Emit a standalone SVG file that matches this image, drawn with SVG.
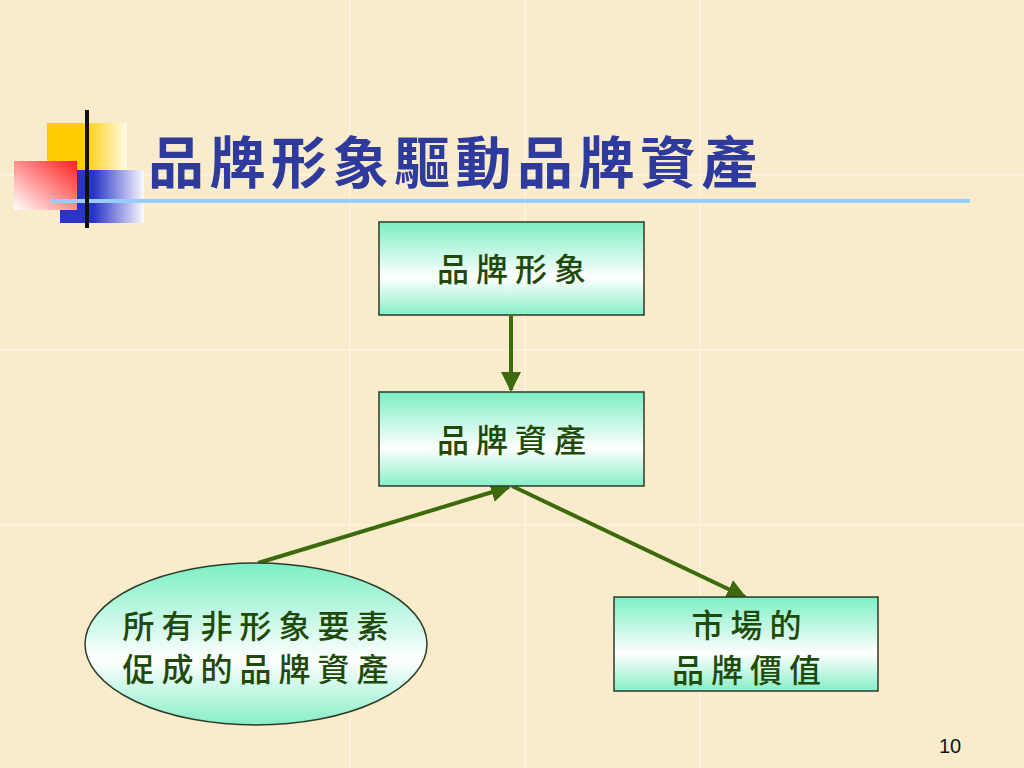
<svg xmlns="http://www.w3.org/2000/svg" width="1024" height="768" viewBox="0 0 1024 768">
<defs>
<style>
.cjk{font-family:"Noto Sans CJK TC","Noto Sans CJK SC",sans-serif;}
.nodeText{font-size:32px;fill:#1f4a0a;text-anchor:middle;font-weight:500;letter-spacing:7px;}
.box{fill:url(#gGreen);stroke:#2f3a2a;stroke-width:1.5;}
.conn{stroke:#3d6b0c;stroke-width:4;fill:none;marker-end:url(#ah);}
.grid{stroke:#fff8e8;stroke-width:1.5;opacity:0.8;}
</style>
<linearGradient id="gGreen" x1="0" y1="0" x2="0" y2="1">
<stop offset="0" stop-color="#7cefc4"/>
<stop offset="0.6" stop-color="#ffffff"/>
<stop offset="1" stop-color="#86efc6"/>
</linearGradient>
<linearGradient id="gYellow" x1="0" y1="0" x2="1" y2="0">
<stop offset="0" stop-color="#ffcc00"/>
<stop offset="0.45" stop-color="#ffcc00"/>
<stop offset="1" stop-color="#fffbe8"/>
</linearGradient>
<linearGradient id="gRed" x1="0" y1="1" x2="1" y2="0">
<stop offset="0" stop-color="#ffffff"/>
<stop offset="1" stop-color="#ff2020"/>
</linearGradient>
<linearGradient id="gBlue" x1="0" y1="0" x2="1" y2="0">
<stop offset="0" stop-color="#2a35c8"/>
<stop offset="0.4" stop-color="#2a35c8"/>
<stop offset="1" stop-color="#fafaff"/>
</linearGradient>
<marker id="ah" viewBox="0 0 10 10" refX="9" refY="5" markerWidth="5" markerHeight="5" orient="auto" markerUnits="strokeWidth">
<path d="M0,0 L10,5 L0,10 z" fill="#3d6b0c"/>
</marker>
</defs>
<rect x="0" y="0" width="1024" height="768" fill="#f9eccc"/>
<g id="background-grid">
<line class="grid" x1="350" y1="0" x2="350" y2="768"/>
<line class="grid" x1="525" y1="0" x2="525" y2="768"/>
<line class="grid" x1="700" y1="0" x2="700" y2="768"/>
<line class="grid" x1="0" y1="175" x2="1024" y2="175"/>
<line class="grid" x1="0" y1="350" x2="1024" y2="350"/>
<line class="grid" x1="0" y1="525" x2="1024" y2="525"/>
</g>
<g id="title-decoration">
<rect x="47" y="123" width="80" height="47" fill="url(#gYellow)"/>
<rect x="60" y="170" width="84" height="53" fill="url(#gBlue)"/>
<rect x="14" y="161" width="63" height="49" fill="url(#gRed)"/>
<line x1="50" y1="201" x2="970" y2="201" stroke="#99ccff" stroke-width="4"/>
<line x1="87" y1="110" x2="87" y2="228" stroke="#111111" stroke-width="4"/>
</g>
<text id="title" class="cjk" x="148" y="183" font-size="56" fill="#2e3a9c" font-weight="600" letter-spacing="5.5">品牌形象驅動品牌資產</text>
<g id="connectors">
<line class="conn" x1="511" y1="316" x2="511" y2="390"/>
<line class="conn" x1="258" y1="563" x2="509" y2="487"/>
<line class="conn" x1="512" y1="486" x2="745" y2="597"/>
</g>
<g id="node-image">
<rect class="box" x="379" y="222" width="265" height="93"/>
<text class="cjk nodeText" x="515" y="281">品牌形象</text>
</g>
<g id="node-equity">
<rect class="box" x="379" y="392" width="265" height="94"/>
<text class="cjk nodeText" x="515" y="452">品牌資產</text>
</g>
<g id="node-nonimage">
<ellipse class="box" cx="256" cy="644" rx="171" ry="81"/>
<text class="cjk nodeText" x="259" y="638">所有非形象要素</text>
<text class="cjk nodeText" x="259" y="681">促成的品牌資產</text>
</g>
<g id="node-market">
<rect class="box" x="614" y="597" width="264" height="94"/>
<text class="cjk nodeText" x="750" y="637">市場的</text>
<text class="cjk nodeText" x="750" y="682">品牌價值</text>
</g>
<text id="page-number" x="950" y="753" font-family="Liberation Sans, Arial, sans-serif" font-size="20" fill="#111111" text-anchor="middle">10</text>
</svg>
